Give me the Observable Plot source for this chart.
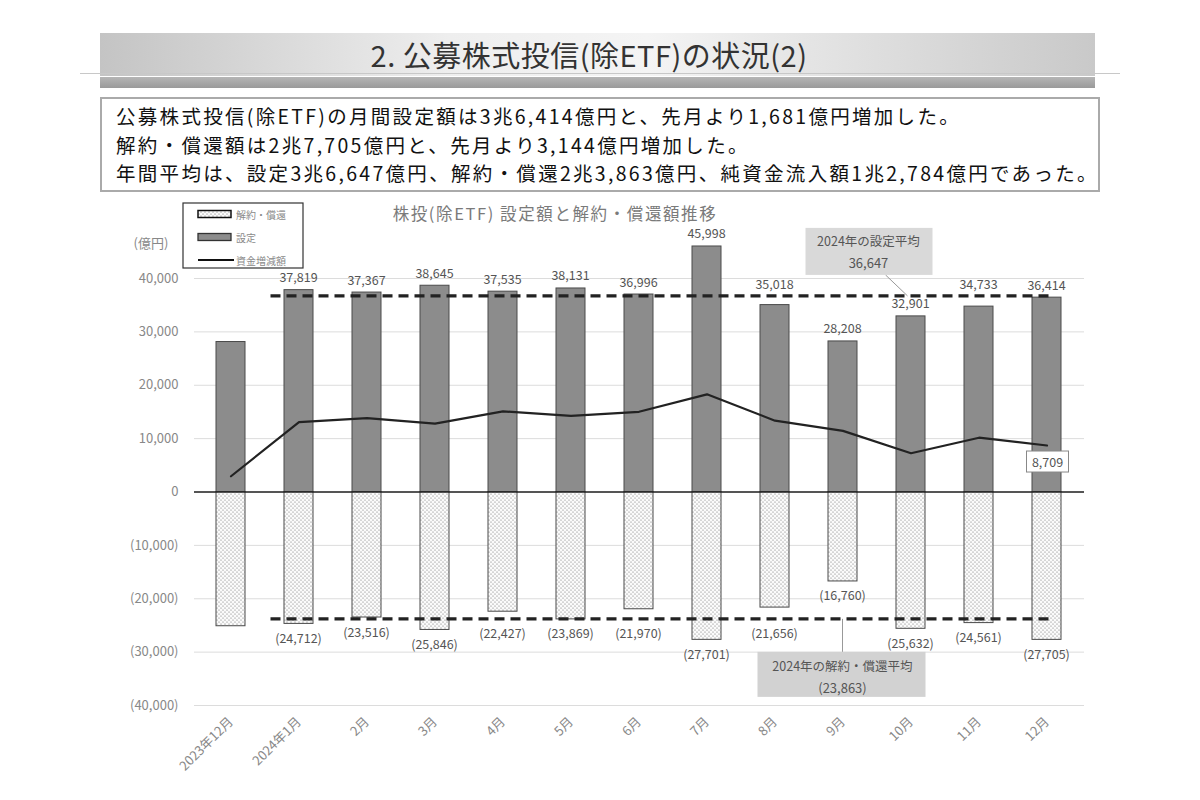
<!DOCTYPE html>
<html><head><meta charset="utf-8">
<script src="https://cdn.jsdelivr.net/npm/d3@7"></script>
<script src="https://cdn.jsdelivr.net/npm/@observablehq/plot@0.6"></script>
<style>
body{margin:0;width:1200px;height:800px;position:relative;background:#fff;font-family:"Noto Sans CJK JP",sans-serif;overflow:hidden}
#banner{position:absolute;left:100px;top:33px;width:995px;height:43px;background:linear-gradient(90deg,#c4c4c4,#eeeeee 35%,#f4f4f4 55%,#c9c9c9)}
#title{position:absolute;left:0;top:33px;width:1178px;height:43px;line-height:43px;text-align:center;font-size:29px;color:#333;letter-spacing:0.5px}
#hline{position:absolute;left:80px;top:73px;width:1040px;height:1px;background:#c8c8c8}
#shadow{position:absolute;left:100px;top:77px;width:995px;height:11px;background:linear-gradient(#b5b5b5,#9a9a9a)}
#box{position:absolute;left:100px;top:97px;width:1000px;height:95px;border:2px solid #aaa;box-sizing:border-box;padding:3px 0 0 14px;font-size:19.5px;letter-spacing:2.3px;line-height:28.5px;color:#111;white-space:nowrap}
#chart{position:absolute;left:0;top:195px}
</style></head>
<body>
<div id="banner"></div>
<div id="title">2. 公募株式投信(除ETF)の状況(2)</div>
<div id="hline"></div>
<div id="shadow"></div>
<div id="box">公募株式投信(除ETF)の月間設定額は3兆6,414億円と、先月より1,681億円増加した。<br>解約・償還額は2兆7,705億円と、先月より3,144億円増加した。<br>年間平均は、設定3兆6,647億円、解約・償還2兆3,863億円、純資金流入額1兆2,784億円であった。</div>
<div id="chart"></div>
<script>
const months = ["2023年12月","2024年1月","2月","3月","4月","5月","6月","7月","8月","9月","10月","11月","12月"];
const setting = [28100,37819,37367,38645,37535,38131,36996,45998,35018,28208,32901,34733,36414];
const redemption = [-25150,-24712,-23516,-25846,-22427,-23869,-21970,-27701,-21656,-16760,-25632,-24561,-27705];
const netFlow = [2950,13107,13851,12799,15108,14262,15026,18297,13362,11448,7269,10172,8709];
const yTicks = [40000,30000,20000,10000,0,-10000,-20000,-30000,-40000];
const avgSetting = 36647;
const avgRedemption = -23863;
const chartTitle = "株投(除ETF) 設定額と解約・償還額推移";
const unitLabel = "(億円)";
const legendLabels = ["解約・償還","設定","資金増減額"];
const avgSettingLabel = "2024年の設定平均";
const avgRedemptionLabel = "2024年の解約・償還平均";

const f = d3.format(",");
const fmt = n => n < 0 ? `(${f(-n)})` : f(n);

const table = months.map((m,i)=>({month:m, setting:setting[i], redemption:redemption[i], net:netFlow[i]}));
const labeled = table.slice(1);
const avgMonths = months.slice(1);
const FONT = "'Noto Sans CJK JP', sans-serif";
const OY = 195;

function el(tag, attrs, parent){
  const e = document.createElementNS("http://www.w3.org/2000/svg", tag);
  for (const k in attrs) e.setAttribute(k, attrs[k]);
  if (parent) parent.appendChild(e);
  return e;
}
function txt(parent, x, y, s, attrs){
  const t = el("text", Object.assign({x, y, "text-anchor":"middle", "dominant-baseline":"central", "font-family":FONT}, attrs||{}), parent);
  t.textContent = s;
  return t;
}

// dashed 2024 average lines (from just left of Jan 2024 to Dec 2024)
function averageLines(index, scales){
  const g = el("g", {});
  const xs = scales.x, ys = scales.y;
  const bw = xs.bandwidth ? xs.bandwidth() : 0;
  const x1 = xs(avgMonths[0]) + bw/2 - 28, x2 = xs(avgMonths[avgMonths.length-1]) + bw/2 + 2;
  for (const v of [avgSetting, avgRedemption]) {
    el("line", {x1, x2, y1: ys(v), y2: ys(v), stroke: "#222", "stroke-width": 3.2, "stroke-dasharray": "10,6"}, g);
  }
  return g;
}

// value labels, nudged off the dashed average lines
function valueLabels(index, scales){
  const g = el("g", {});
  const xs = scales.x, ys = scales.y;
  const bw = xs.bandwidth ? xs.bandwidth() : 0;
  const ySet = ys(avgSetting), yRed = ys(avgRedemption);
  for (const d of labeled){
    const cx = xs(d.month) + bw/2;
    let yt = ys(d.setting) - 13;
    if (Math.abs(yt - ySet) < 6.5) yt = ySet - 12;
    txt(g, cx, yt, fmt(d.setting), {"font-size":12.5, fill:"#555"});
    let yb = ys(d.redemption) + 14;
    if (Math.abs(yb - yRed) < 10) yb = yRed + 14;
    txt(g, cx, yb, fmt(d.redemption), {"font-size":12.5, fill:"#555"});
  }
  return g;
}

// decorations drawn using the plot's scales
function decorations(index, scales){
  const g = el("g", {});
  const xs = scales.x, ys = scales.y;
  const bw = xs.bandwidth ? xs.bandwidth() : 0;
  const cx = m => xs(m) + bw/2;
  txt(g, 555, 213-OY, chartTitle, {"font-size":16.5, fill:"#7a7a7a", "letter-spacing":"1.6"});
  txt(g, 151, 242-OY, unitLabel, {"font-size":13, fill:"#888"});
  // legend
  el("rect", {x:183, y:203-OY, width:120, height:65, fill:"#fff", stroke:"#333", "stroke-width":1.2}, g);
  el("rect", {x:198, y:210.5-OY, width:33, height:7, fill:"url(#dots)", stroke:"#111", "stroke-width":1.5}, g);
  el("rect", {x:198, y:233.5-OY, width:33, height:7, fill:"#8c8c8c", stroke:"#333", "stroke-width":1.3}, g);
  el("line", {x1:198, x2:234, y1:260-OY, y2:260-OY, stroke:"#111", "stroke-width":2}, g);
  [214,237,260].forEach((yy,i)=>txt(g, 236, yy-OY, legendLabels[i], {"text-anchor":"start","font-size":10, fill:"#8a8a8a"}));
  // setting average box (anchored near 10月)
  const xa = cx("10月"), ya = ys(avgSetting);
  el("line", {x1:xa-25, y1:ya-21, x2:xa-3, y2:ya, stroke:"#999", "stroke-width":1}, g);
  el("rect", {x:xa-105, y:ya-68, width:127, height:47, fill:"#d9d9d9"}, g);
  txt(g, xa-42, ya-55, avgSettingLabel, {"font-size":12.5, fill:"#555"});
  txt(g, xa-42, ya-33, fmt(avgSetting), {"font-size":13, fill:"#555"});
  // redemption average box (anchored at 9月)
  const xb = cx("9月"), yb = ys(avgRedemption);
  el("line", {x1:xb, y1:yb, x2:xb, y2:yb+33, stroke:"#999", "stroke-width":1}, g);
  el("rect", {x:xb-85, y:yb+33, width:168, height:45, fill:"#d2d2d2"}, g);
  txt(g, xb, yb+47, avgRedemptionLabel, {"font-size":12.5, fill:"#555"});
  txt(g, xb, yb+69, fmt(avgRedemption), {"font-size":13, fill:"#555"});
  // last net value boxed label
  const last = table[table.length-1];
  const xl = cx(last.month), yl = ys(last.net);
  el("rect", {x:xl-20, y:yl+6, width:42, height:21, fill:"#fff", stroke:"#888", "stroke-width":1}, g);
  txt(g, xl+1, yl+16.5, fmt(last.net), {"font-size":12.5, fill:"#555"});
  return g;
}

const plot = Plot.plot({
  width: 1200, height: 600,
  marginTop: 83, marginBottom: 90, marginLeft: 194, marginRight: 116,
  style: {fontFamily: FONT, fontSize: "13px", color: "#888", background: "transparent", overflow: "visible"},
  x: {domain: months, paddingInner: 0.57, paddingOuter: 0.285, label: null, tickSize: 0, tickRotate: -45, tickPadding: 14},
  y: {domain: [-40000, 40000], ticks: yTicks, tickFormat: fmt, label: null, tickSize: 0, tickPadding: 16},
  marks: [
    Plot.ruleY(yTicks, {stroke: "#dcdcdc", strokeWidth: 1}),
    Plot.barY(table, {x: "month", y: "setting", fill: "#8c8c8c", stroke: "#4a4a4a", strokeWidth: 1}),
    Plot.barY(table, {x: "month", y: "redemption", fill: "url(#dots)", stroke: "#4a4a4a", strokeWidth: 1}),
    Plot.ruleY([0], {stroke: "#222", strokeWidth: 1.3}),
    averageLines,
    Plot.lineY(table, {x: "month", y: "net", stroke: "#222", strokeWidth: 2.2}),
    valueLabels,
    decorations
  ]
});

const defs = el("defs", {});
const pat = el("pattern", {id: "dots", width: 4, height: 4, patternUnits: "userSpaceOnUse"}, defs);
el("rect", {width: 4, height: 4, fill: "#fbfbfb"}, pat);
el("circle", {cx: 1, cy: 1, r: 0.55, fill: "#666"}, pat);
el("circle", {cx: 3, cy: 3, r: 0.55, fill: "#666"}, pat);
plot.insertBefore(defs, plot.firstChild);

document.getElementById("chart").appendChild(plot);
</script>
</body></html>
